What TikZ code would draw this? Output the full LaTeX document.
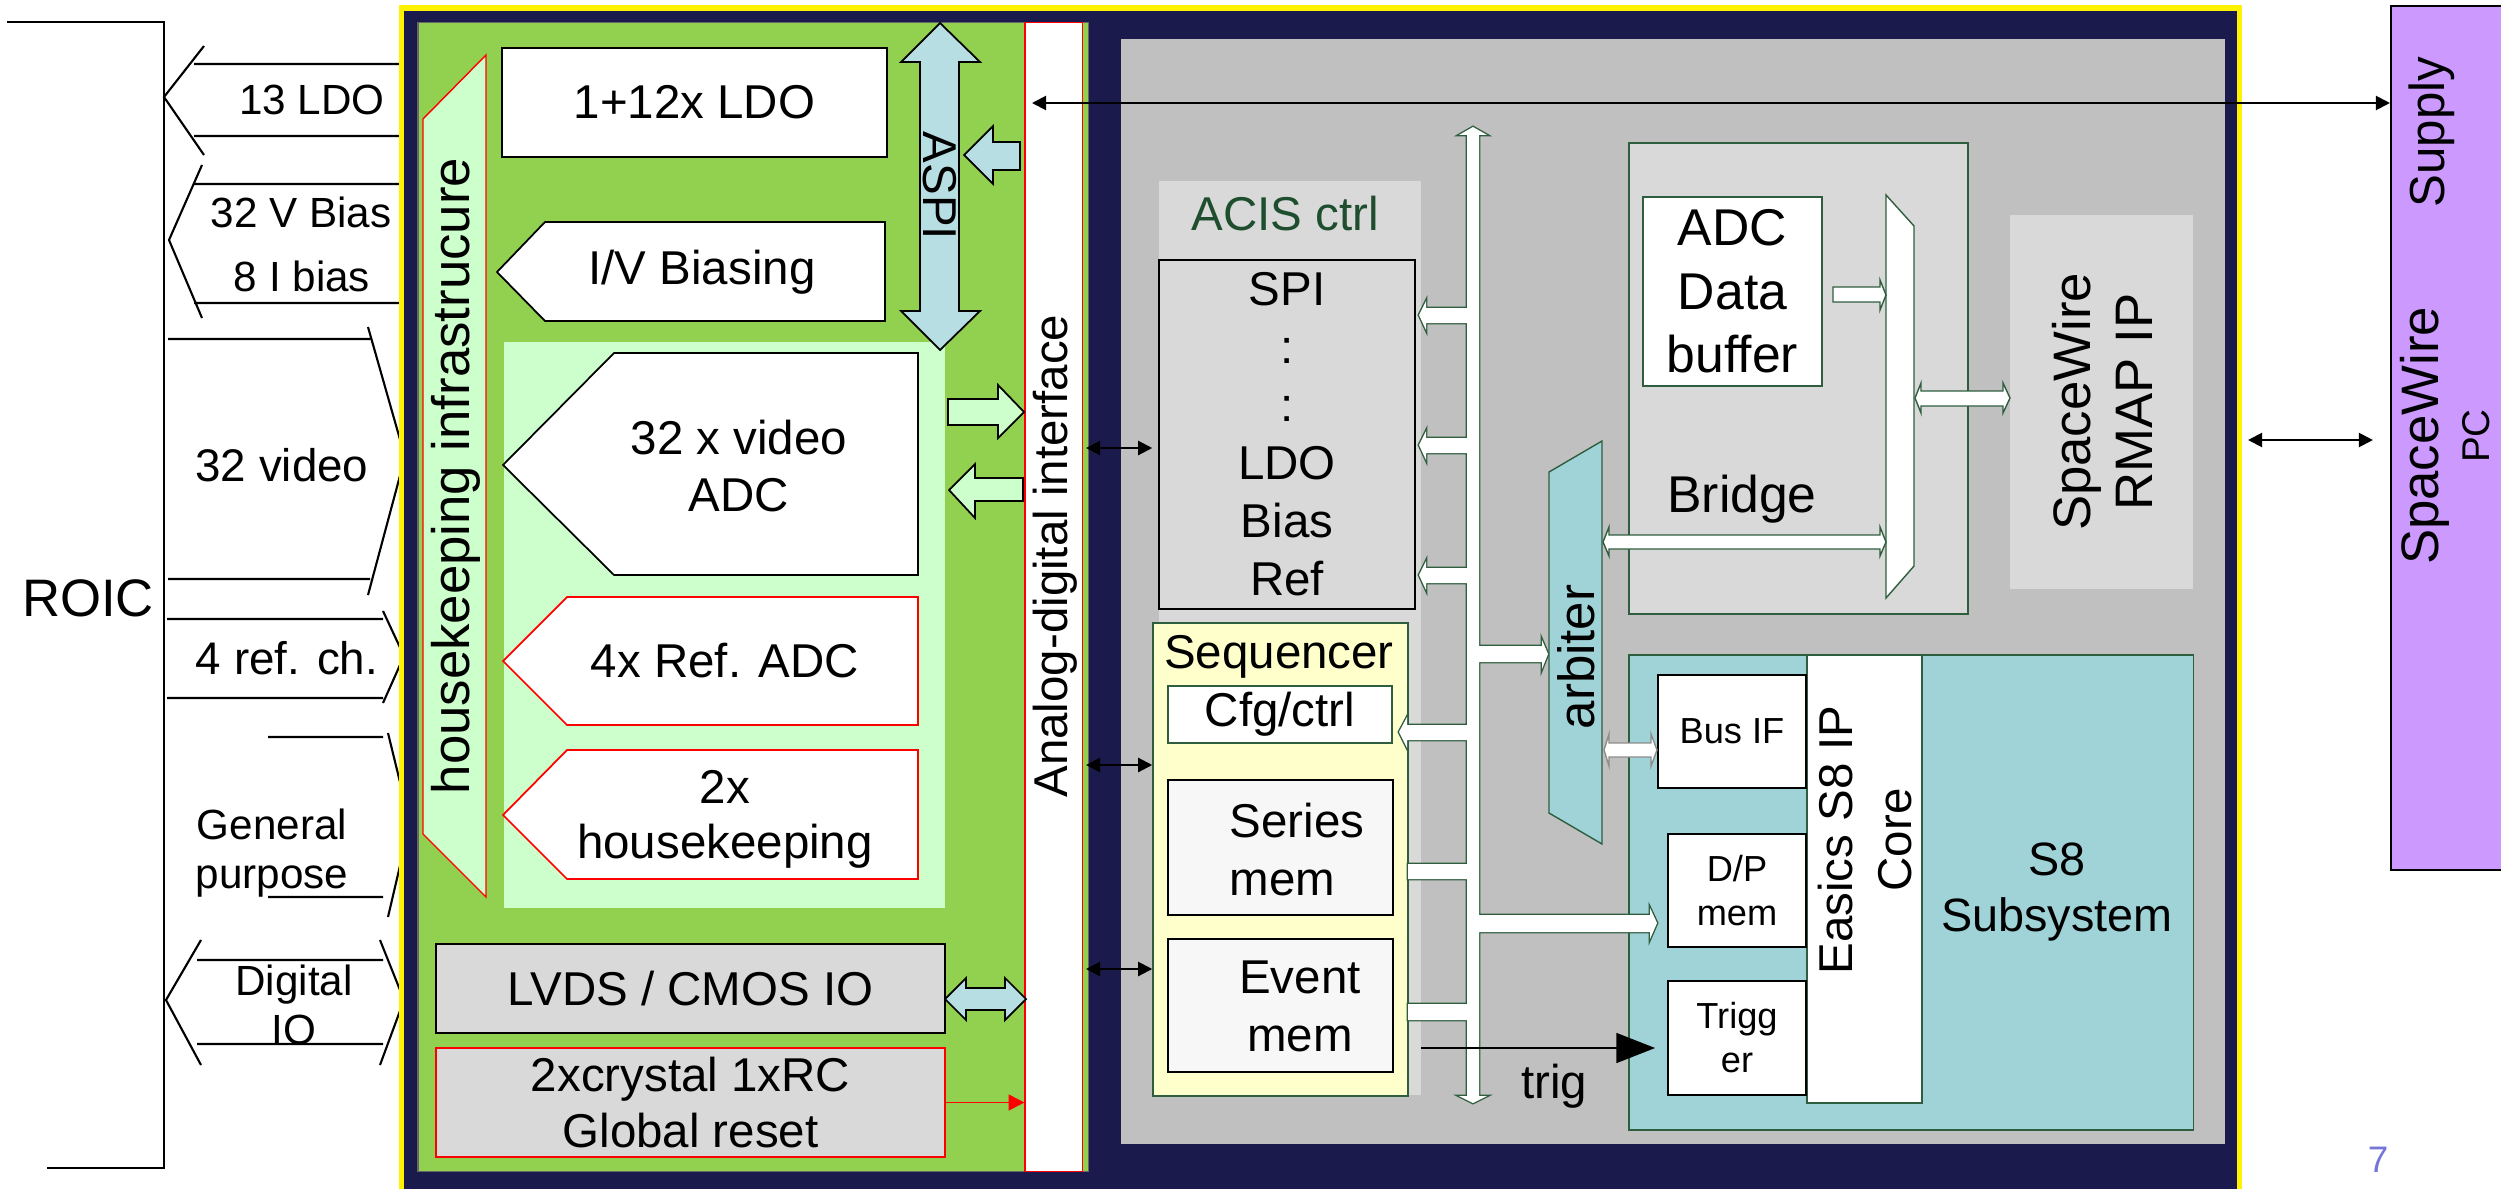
\documentclass[tikz,border=0pt]{standalone}
\usepackage{fontspec}
\setmainfont{Liberation Sans}
\usetikzlibrary{arrows.meta,calc}
\definecolor{Navy}{HTML}{1B1A4D}
\definecolor{Leaf}{HTML}{92D050}
\definecolor{Mint}{HTML}{CCFFCC}
\definecolor{Silver}{HTML}{C0C0C0}
\definecolor{Fog}{HTML}{D9D9D9}
\definecolor{Ice}{HTML}{B7DEE2}
\definecolor{Teal}{HTML}{A0D3D8}
\definecolor{Cream}{HTML}{FFFFCC}
\definecolor{Lilac}{HTML}{CC99FF}
\definecolor{Moss}{HTML}{2F5E3E}
\definecolor{Pine}{HTML}{1F4E2F}
\definecolor{Slate}{HTML}{7676D8}

\begin{document}
\begin{tikzpicture}[x=0.01cm,y=-0.01cm,
  lbl/.style={font=\fontsize{12}{14}\selectfont,align=center,inner sep=0pt},
  txt/.style={font=\fontsize{13.5}{16.5}\selectfont,align=center,inner sep=0pt},
  big/.style={font=\fontsize{15}{17.6}\selectfont,align=center,inner sep=0pt},
  smalltxt/.style={font=\fontsize{10.3}{12.5}\selectfont,align=center,inner sep=0pt},
  box/.style={draw,line width=0.5pt,fill=white,inner sep=0pt},
  pane/.style={draw=Moss,line width=0.4pt,inner sep=0pt},
  plain/.style={inner sep=0pt},
  fat/.style={draw=Moss,line width=0.4pt,fill=white},
  wire/.style={semithick},
  dbl/.style={{Triangle[length=4pt,width=4pt]}-{Triangle[length=4pt,width=4pt]},semithick}]
\useasboundingbox (0,0) rectangle (2501,1188);
\clip (0,0) rectangle (2501,1188);

% ROIC side
\draw[wire] (7,22) -| (164,1168) -- (47,1168);
\node[font=\fontsize{15}{18}\selectfont] (roic) at (88,598) {ROIC};
\draw[wire] (194,64) -- (402,64) (194,136) -- (402,136) (204,46) -- (164,97) -- (204,155);
\node[lbl] (ldolbl) at (312,100) {13 LDO};
\draw[wire] (194,184) -- (405,184) (194,303) -- (405,303) (202,165) -- (169,240) -- (202,318);
\node[lbl] (vbias) at (301,212) {32 V Bias};
\node[lbl] (ibias) at (302,276) {8 I bias};
\draw[wire] (168,339) -- (370,339) (168,579) -- (370,579) (368,327) -- (405,457) -- (368,595);
\node[lbl,font=\fontsize{13}{15}\selectfont] (video) at (282,465) {32 video};
\draw[wire] (167,619) -- (383,619) (167,698) -- (383,698) (383,611) -- (404,656) -- (383,703);
\node[lbl,font=\fontsize{13}{15}\selectfont] (refch) at (287,658) {4 ref. ch.};
\draw[wire] (268,737) -- (383,737) (268,897) -- (383,897) (388,733) -- (410,823) -- (388,917);
\node[lbl] (gpio) at (272,853) {General\\purpose};
\draw[wire] (197,960) -- (383,960) (197,1044) -- (383,1044)
  (201,940) -- (166,1000) -- (201,1065) (380,940) -- (404,1000) -- (380,1065);
\node[lbl] (dio) at (294,1005) {Digital\\IO};

% chip
\filldraw[fill=Navy,draw=yellow,line width=0.055cm] (401.5,8) rectangle (2239.5,1300);
\node[draw=black!60,thin,fill=Leaf,minimum width=6.70cm,minimum height=11.48cm] (analog) at (753,597) {};
\node[draw=red,line width=0.3pt,fill=white,minimum width=0.57cm,minimum height=11.48cm] (adif) at (1053.5,597) {};
\node[txt,rotate=90] (adiflbl) at (1055,556) {Analog-digital interface};
\draw[red,line width=0.4pt,fill=Mint] (423,119) -- (486,55) -- (486,897) -- (423,834) -- cycle;
\node[big,rotate=90] (hkinfra) at (456,476) {housekeeping infrastrucure};
\node[box,txt,minimum width=3.85cm,minimum height=1.09cm] (ldo) at (694.5,102.5) {1+12x LDO};
\draw[line width=0.5pt,fill=white] (497,272) -- (545,222) -- (885,222) -- (885,321) -- (545,321) -- cycle;
\node[txt] (bias) at (702,272) {I/V Biasing};
\node[plain,fill=Mint,minimum width=4.41cm,minimum height=5.66cm] (adczone) at (724.5,625) {};
\draw[line width=0.5pt,fill=Ice] (940,23) -- (980,62) -- (959,62) -- (959,311) -- (980,311) -- (940,350)
  -- (901,311) -- (920,311) -- (920,62) -- (901,62) -- cycle;
\node[txt,rotate=-90] (aspi) at (940,186) {ASPI};
\draw[line width=0.5pt,fill=Ice] (964,155) -- (993,126) -- (993,142) -- (1020,142) -- (1020,170) -- (993,170) -- (993,184) -- cycle;
\draw[line width=0.5pt,fill=white] (503,465) -- (614,353) -- (918,353) -- (918,575) -- (614,575) -- cycle;
\node[txt,font=\fontsize{13.5}{16}\selectfont] (vadc) at (739,466) {32 x video\\ADC};
\draw[line width=0.5pt,fill=Mint] (948,399) -- (998,399) -- (998,385) -- (1024,412) -- (998,438) -- (998,425) -- (948,425) -- cycle;
\draw[line width=0.5pt,fill=Mint] (949,490) -- (975,464) -- (975,478) -- (1023,478) -- (1023,501) -- (975,501) -- (975,518) -- cycle;
\draw[red,line width=0.5pt,fill=white] (503,661) -- (567,597) -- (918,597) -- (918,725) -- (567,725) -- cycle;
\node[txt] (refadc) at (725,661) {4x Ref. ADC};
\draw[red,line width=0.5pt,fill=white] (503,815) -- (567,750) -- (918,750) -- (918,879) -- (567,879) -- cycle;
\node[txt,font=\fontsize{13.5}{15.6}\selectfont] (hkadc) at (725,819) {2x\\housekeeping};
\node[box,txt,fill=Fog,minimum width=5.09cm,minimum height=0.89cm] (lvds) at (690.5,988.5) {LVDS / CMOS IO};
\draw[line width=0.5pt,fill=Ice] (945,999) -- (966,978) -- (966,988) -- (1005,988) -- (1005,978) -- (1026,999)
  -- (1005,1020) -- (1005,1010) -- (966,1010) -- (966,1020) -- cycle;
\node[box,txt,draw=red,fill=Fog,font=\fontsize{13.5}{16}\selectfont,minimum width=5.09cm,minimum height=1.09cm] (clk) at (690.5,1102.5) {2xcrystal 1xRC\\Global reset};
\draw[red,line width=0.5pt,-{Triangle[length=4.5pt,width=4.5pt]}] (clk.east) -- (clk.east -| adif.west);

% digital part
\node[plain,fill=Silver,minimum width=11.04cm,minimum height=11.05cm] (digital) at (1673,591.5) {};
\node[plain,fill=Fog,minimum width=2.62cm,minimum height=9.14cm] (acis) at (1290,638) {};
\node[txt,text=Pine] (acislbl) at (1285,214) {ACIS ctrl};
\node[box,txt,fill=Fog,minimum width=2.56cm,minimum height=3.49cm] (spi) at (1287,434.5) {SPI\\:\\:\\LDO\\Bias\\Ref};
\node[pane,fill=Cream,minimum width=2.55cm,minimum height=4.73cm] (seq) at (1280.5,859.5) {};
\node[txt] (seqlbl) at (1279,657) {Sequencer};
\node[pane,txt,fill=white,minimum width=2.24cm,minimum height=0.57cm] (cfg) at (1280,714.5) {Cfg/ctrl};
\node[box,fill=black!3,minimum width=2.25cm,minimum height=1.35cm] (series) at (1280.5,847.5) {};
\node[txt,align=left,anchor=west] (serieslbl) at (1229,849.5) {Series\\mem};
\node[box,fill=black!3,minimum width=2.25cm,minimum height=1.33cm] (event) at (1280.5,1005.5) {};
\node[txt] (eventlbl) at (1300,1006) {Event\\mem};
\foreach \yy in {448,765,969}{%
  \coordinate (q) at (1086,\yy);
  \draw[dbl] (q) -- (q -| seq.west);}

\node[pane,fill=Fog,minimum width=3.39cm,minimum height=4.71cm] (bridge) at (1798.5,378.5) {};
\node[pane,fill=white,font=\fontsize{14.7}{18}\selectfont,align=center,minimum width=1.79cm,minimum height=1.89cm] (buffer) at (1732.5,291.5) {ADC\\Data\\buffer};
\draw[draw=Moss,line width=0.4pt,fill=white] (1886,195) -- (1914,226) -- (1914,566) -- (1886,598) -- cycle;
\node[font=\fontsize{14.7}{18}\selectfont] (bridgelbl) at (1742,499) {Bridge};
\node[plain,fill=Fog,minimum width=1.83cm,minimum height=3.74cm] (rmap) at (2101.5,402) {};
\node[big,rotate=90] (rmaplbl) at (2102,402) {SpaceWire\\RMAP IP};

\node[pane,fill=Teal,minimum width=5.64cm,minimum height=4.75cm] (s8) at (1911,892.5) {};
\node[pane,fill=white,minimum width=1.15cm,minimum height=4.48cm] (easics) at (1864.5,879) {};
\node[txt,rotate=90] (easicslbl) at (1865,840) {Easics S8 IP\\Core};
\node[box,smalltxt,minimum width=1.48cm,minimum height=1.13cm] (busif) at (1732,731.5) {Bus IF};
\node[box,smalltxt,minimum width=1.38cm,minimum height=1.13cm] (dpmem) at (1737,890.5) {D/P\\mem};
\node[box,smalltxt,minimum width=1.38cm,minimum height=1.14cm] (trigger) at (1737,1038) {Trigg\\er};
\node[txt,font=\fontsize{13.3}{16}\selectfont] (s8lbl) at (2057,892) {S8\\Subsystem};

\path[draw=Moss,line width=0.8pt,postaction={fill=white}]
  (1473,127) -- (1487,135) -- (1479,135) -- (1479,1096) -- (1487,1096) -- (1473,1103)
  -- (1459,1096) -- (1467,1096) -- (1467,135) -- (1459,135) -- cycle
  \foreach \yy in {315,445,575}{ (1419,\yy) -- (1426,\yy-14) -- (1426,\yy-7) -- (1473,\yy-7)
    -- (1473,\yy+8) -- (1426,\yy+8) -- (1426,\yy+15) -- cycle }
  (1399,732) -- (1407,717) -- (1407,725) -- (1473,725) -- (1473,740) -- (1407,740) -- (1407,748) -- cycle
  (1408,864) -- (1473,864) -- (1473,879) -- (1408,879) -- cycle
  (1408,1004) -- (1473,1004) -- (1473,1020) -- (1408,1020) -- cycle
  (1473,646) -- (1542,646) -- (1542,640) -- (1548,654) -- (1542,669) -- (1542,662) -- (1473,662) -- cycle
  (1473,915) -- (1650,915) -- (1650,908) -- (1657,923) -- (1650,939) -- (1650,932) -- (1473,932) -- cycle;

\draw[draw=Moss,line width=0.4pt,fill=Teal] (1549,472) -- (1602,441) -- (1602,844) -- (1549,813) -- cycle;
\node[font=\fontsize{14.5}{17}\selectfont,rotate=90] (arb) at (1576,657) {arbiter};
\draw[fat] (1833,287) -- (1880,287) -- (1880,280) -- (1886,295) -- (1880,310) -- (1880,302) -- (1833,302) -- cycle;
\draw[fat] (1603,542) -- (1609,527) -- (1609,535) -- (1880,535) -- (1880,527) -- (1886,542)
  -- (1880,556) -- (1880,549) -- (1609,549) -- (1609,556) -- cycle;
\draw[fat] (1915,398) -- (1921,383) -- (1921,391) -- (2003,391) -- (2003,383) -- (2010,398)
  -- (2003,413) -- (2003,406) -- (1921,406) -- (1921,413) -- cycle;
\draw[fat,draw=black!45] (1604,750) -- (1609,734) -- (1609,743) -- (1651,743) -- (1651,734) -- (1657,750)
  -- (1651,766) -- (1651,757) -- (1609,757) -- (1609,766) -- cycle;

\coordinate (trg) at (1421,1048);
\draw[line width=0.5pt,-{Triangle[length=11pt,width=8.5pt]}] (trg) -- ($(trigger.west |- trg)+(-12,0)$);
\node[txt] (triglbl) at (1554,1086) {trig};

% outside
\node[draw,line width=0.6pt,fill=Lilac,minimum width=1.29cm,minimum height=8.64cm] (host) at (2455.5,438) {};
\node[rotate=90,font=\fontsize{14}{16}\selectfont] (supply) at (2432,132) {Supply};
\node[rotate=90,big] (spw) at (2425,436) {SpaceWire};
\node[rotate=90,font=\fontsize{11}{13}\selectfont] (pc) at (2476,436) {PC};
\coordinate (sup) at (1032,103);
\draw[dbl] (sup) -- (sup -| host.west);
\coordinate (spwl) at (2248,440);
\draw[dbl] (spwl) -- ($(spwl -| host.west)+(-17,0)$);
\node[text=Slate,font=\fontsize{10.5}{12}\selectfont] (page) at (2378,1160) {7};
\end{tikzpicture}
\end{document}
